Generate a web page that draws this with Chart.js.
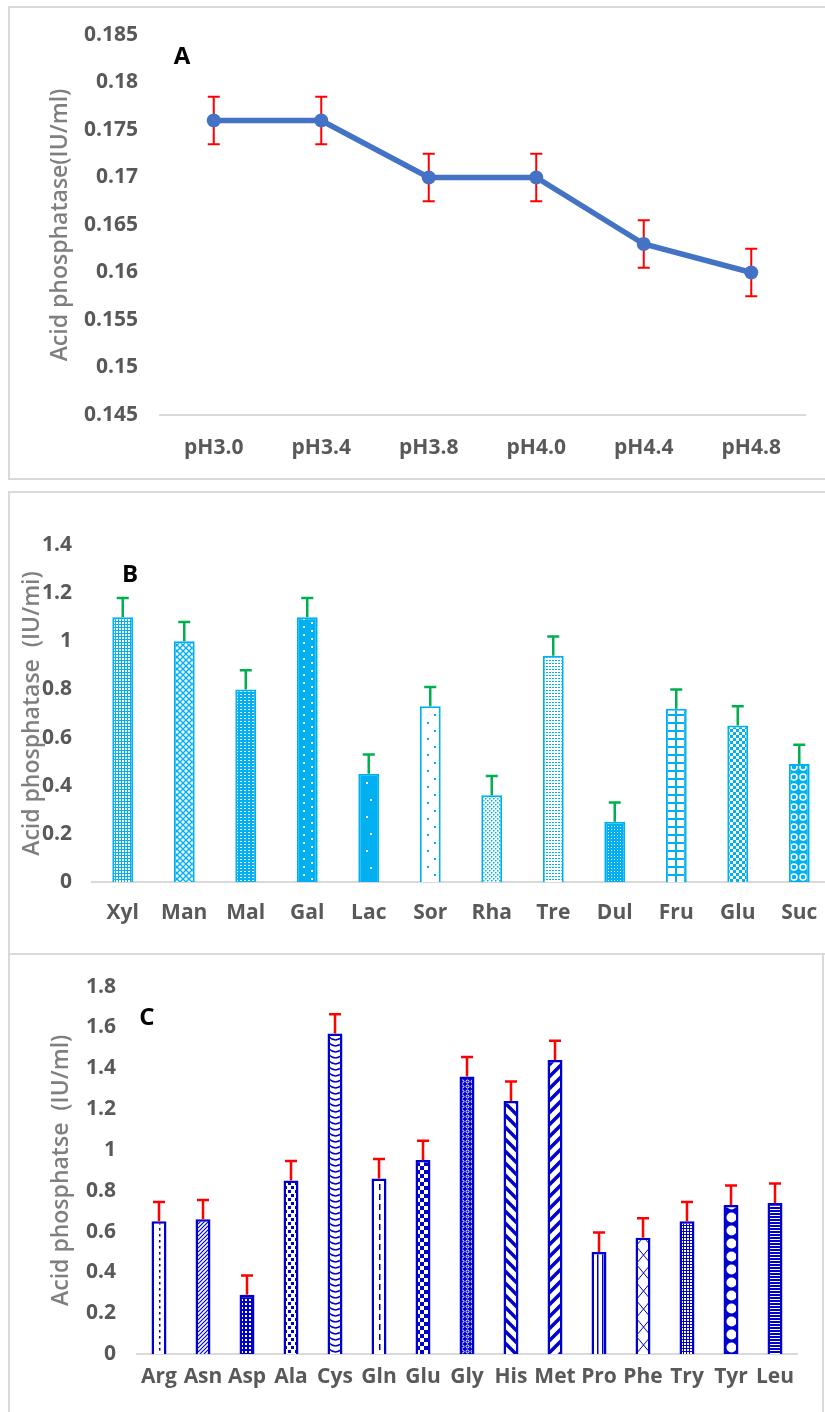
<!DOCTYPE html>
<html>
<head>
<meta charset="utf-8">
<script src="https://cdn.jsdelivr.net/npm/chart.js@4.4.0/dist/chart.umd.min.js"></script>
<style>
  body { margin: 0; background: #fff; width: 825px; height: 1412px; overflow: hidden; position: relative; }
  .panel { position: absolute; border: 2px solid #d9d9d9; box-sizing: border-box; }
  canvas { position: absolute; left: 0; }
</style>
</head>
<body>
<div class="panel" style="left:8px;top:6px;width:840px;height:474px"></div>
<div class="panel" style="left:8px;top:491px;width:840px;height:464px"></div>
<div class="panel" style="left:8px;top:953px;width:816px;height:470px"></div>
<canvas id="chartA" width="825" height="480" style="top:0"></canvas>
<canvas id="chartB" width="840" height="461" style="top:492px"></canvas>
<canvas id="chartC" width="825" height="459" style="top:953px"></canvas>
<script>
// A - pH
const phLabels = ['pH3.0', 'pH3.4', 'pH3.8', 'pH4.0', 'pH4.4', 'pH4.8'];
const phValues = [0.176, 0.176, 0.170, 0.170, 0.163, 0.160];
const phErrors = [0.0025, 0.0025, 0.0025, 0.0025, 0.0025, 0.0025];
const phTicks = [0.145, 0.15, 0.155, 0.16, 0.165, 0.17, 0.175, 0.18, 0.185];

// B - sugars
const sugarLabels = ['Xyl', 'Man', 'Mal', 'Gal', 'Lac', 'Sor', 'Rha', 'Tre', 'Dul', 'Fru', 'Glu', 'Suc'];
const sugarValues = [1.10, 1.00, 0.80, 1.10, 0.45, 0.73, 0.36, 0.94, 0.25, 0.72, 0.65, 0.49];
const sugarErrors = [0.08, 0.08, 0.08, 0.08, 0.08, 0.08, 0.08, 0.08, 0.08, 0.08, 0.08, 0.08];
const sugarTicks = [0, 0.2, 0.4, 0.6, 0.8, 1, 1.2, 1.4];

// C - amino acids
const aminoLabels = ['Arg', 'Asn', 'Asp', 'Ala', 'Cys', 'Gln', 'Glu', 'Gly', 'His', 'Met', 'Pro', 'Phe', 'Try', 'Tyr', 'Leu'];
const aminoValues = [0.65, 0.66, 0.29, 0.85, 1.57, 0.86, 0.95, 1.36, 1.24, 1.44, 0.50, 0.57, 0.65, 0.73, 0.74];
const aminoErrors = [0.095, 0.095, 0.095, 0.095, 0.095, 0.095, 0.095, 0.095, 0.095, 0.095, 0.095, 0.095, 0.095, 0.095, 0.095];
const aminoTicks = [0, 0.2, 0.4, 0.6, 0.8, 1, 1.2, 1.4, 1.6, 1.8];

const CY = '#00b0f0', BL = '#0000cc', W = '#ffffff';
const tickFont = { family: "'Open Sans', sans-serif", size: 21, weight: 'bold' };
const titleFont = { family: "'Open Sans', sans-serif", size: 23, weight: '600' };
const tickColor = '#595959', titleColor = '#7f7f7f';

// small repeating fills for the bars
function tile(w, h, bg, draw) {
  const c = document.createElement('canvas');
  c.width = w; c.height = h;
  const g = c.getContext('2d');
  g.fillStyle = bg; g.fillRect(0, 0, w, h);
  draw(g);
  return g.createPattern(c, 'repeat');
}
function lines(g, col, lw, segs) {
  g.strokeStyle = col; g.lineWidth = lw; g.beginPath();
  segs.forEach(s => { g.moveTo(s[0], s[1]); g.lineTo(s[2], s[3]); });
  g.stroke();
}

const sugarFills = [
  tile(3, 3, W, g => { g.fillStyle = CY; g.fillRect(0, 0, 3, 1); g.fillRect(0, 0, 1, 3); }),
  tile(6, 6, W, g => lines(g, CY, 1.4, [[0, 0, 6, 6], [6, 0, 0, 6]])),
  tile(4, 3, CY, g => { g.fillStyle = W; g.fillRect(1, 1, 2, 1); }),
  tile(21, 8, CY, g => { g.fillStyle = W; g.fillRect(6, 0, 2, 2); g.fillRect(14, 4, 2, 2); }),
  tile(21, 34, CY, g => { g.fillStyle = W; g.fillRect(8, 2, 2, 2); g.fillRect(12, 19, 2, 2); }),
  tile(21, 16, W, g => { g.fillStyle = CY; g.fillRect(7, 0, 2, 2); g.fillRect(14, 8, 2, 2); }),
  tile(4, 4, W, g => { g.fillStyle = CY; g.fillRect(0, 0, 1.5, 1.5); g.fillRect(2, 2, 1.5, 1.5); }),
  tile(3, 3, W, g => { g.fillStyle = CY; g.fillRect(0, 0, 2, 1); }),
  tile(3, 3, CY, g => { g.fillStyle = W; g.fillRect(1, 1, 1, 1); }),
  tile(9, 8, CY, g => { g.fillStyle = W; g.fillRect(2, 2, 7, 6); }),
  tile(6, 6, W, g => { g.fillStyle = CY; g.fillRect(0, 0, 3, 3); g.fillRect(3, 3, 3, 3); }),
  tile(9, 10, CY, g => { g.strokeStyle = W; g.lineWidth = 1.5; g.beginPath(); g.arc(5, 5, 3, 0, Math.PI * 2); g.stroke(); })
];

const aminoFills = [
  tile(15, 6, W, g => { g.fillStyle = BL; g.fillRect(7, 0, 1.5, 2.5); }),
  tile(4, 4, W, g => lines(g, BL, 1.2, [[0, 4, 4, 0], [-1, 1, 1, -1], [3, 5, 5, 3]])),
  tile(4, 4, BL, g => { g.fillStyle = W; g.fillRect(1, 1, 2, 2); }),
  tile(7, 8, W, g => { g.fillStyle = BL; g.fillRect(0, 0, 3, 3); g.fillRect(4, 4, 3, 3); }),
  tile(15, 6, W, g => { g.strokeStyle = BL; g.lineWidth = 1.5; g.beginPath(); g.moveTo(0, 0); g.quadraticCurveTo(7.5, 8, 15, 0); g.stroke(); }),
  tile(15, 10, W, g => { g.fillStyle = BL; g.fillRect(7, 0, 1.5, 6); }),
  tile(8, 8, W, g => { g.fillStyle = BL; g.fillRect(0, 0, 4, 4); g.fillRect(4, 4, 4, 4); }),
  tile(5, 5, BL, g => { g.strokeStyle = W; g.lineWidth = 1; g.beginPath(); g.arc(2.5, 2.5, 1.5, 0, Math.PI * 2); g.stroke(); }),
  tile(12, 12, W, g => lines(g, BL, 3.5, [[0, 0, 12, 12], [-6, 6, 6, 18], [6, -6, 18, 6]])),
  tile(12, 12, W, g => lines(g, BL, 3.5, [[0, 12, 12, 0], [-6, 6, 6, -6], [6, 18, 18, 6]])),
  tile(5, 1, W, g => { g.fillStyle = BL; g.fillRect(0, 0, 1.5, 1); }),
  tile(15, 18, W, g => lines(g, BL, 1, [[0, 0, 15, 18], [15, 0, 0, 18]])),
  tile(3, 3, W, g => { g.fillStyle = BL; g.fillRect(0, 0, 3, 1); g.fillRect(0, 0, 1, 3); }),
  tile(15, 13, BL, g => { g.fillStyle = W; g.beginPath(); g.arc(7.5, 6.5, 5, 0, Math.PI * 2); g.fill(); }),
  tile(1, 3, BL, g => { g.fillStyle = W; g.fillRect(0, 2, 1, 1); })
];

// line each fill up with the left edge of its bar
const alignPatterns = {
  id: 'alignPatterns',
  beforeDatasetsDraw(chart) {
    const meta = chart.getDatasetMeta(0);
    const bg = chart.data.datasets[0].backgroundColor;
    meta.data.forEach((el, i) => {
      const p = bg[i];
      if (p && p.setTransform) p.setTransform(new DOMMatrix([1, 0, 0, 1, Math.round(el.x - el.width / 2), Math.round(el.base)]));
    });
  }
};

function drawErrors(chart, opts) {
  const ctx = chart.ctx;
  const y = chart.scales.y;
  const vals = chart.data.datasets[0].data;
  ctx.save();
  ctx.strokeStyle = opts.color;
  ctx.lineWidth = opts.width;
  chart.getDatasetMeta(0).data.forEach((el, i) => {
    const top = y.getPixelForValue(vals[i] + opts.errors[i]);
    const bot = opts.both ? y.getPixelForValue(vals[i] - opts.errors[i]) : y.getPixelForValue(vals[i]);
    ctx.beginPath();
    ctx.moveTo(el.x, top); ctx.lineTo(el.x, bot);
    ctx.moveTo(el.x - opts.cap / 2, top); ctx.lineTo(el.x + opts.cap / 2, top);
    if (opts.both) { ctx.moveTo(el.x - opts.cap / 2, bot); ctx.lineTo(el.x + opts.cap / 2, bot); }
    ctx.stroke();
  });
  ctx.restore();
}
const errorBarsBehind = { id: 'errorBarsBehind', beforeDatasetsDraw(chart, args, opts) { drawErrors(chart, opts); } };
const errorBarsFront = { id: 'errorBarsFront', afterDatasetsDraw(chart, args, opts) { drawErrors(chart, opts); } };

const panelLetter = {
  id: 'panelLetter',
  afterDraw(chart, args, opts) {
    const ctx = chart.ctx;
    ctx.save();
    ctx.font = "bold 24px 'Open Sans', sans-serif";
    ctx.fillStyle = '#000';
    ctx.textAlign = 'center';
    ctx.textBaseline = 'middle';
    ctx.fillText(opts.text, opts.x, opts.y);
    ctx.restore();
  }
};

function axes(cfg) {
  return {
    x: {
      offset: true,
      grid: { display: false, drawTicks: false },
      border: { display: true, color: '#d9d9d9', width: 2 },
      ticks: { font: tickFont, color: tickColor, padding: cfg.xPad, maxRotation: 0, autoSkip: false },
      afterFit: s => { s.height = cfg.xHeight; }
    },
    y: {
      min: cfg.ticks[0],
      max: cfg.ticks[cfg.ticks.length - 1],
      grid: { display: false, drawTicks: false },
      border: { display: false },
      afterBuildTicks: s => { s.ticks = cfg.ticks.map(v => ({ value: v })); },
      ticks: { font: tickFont, color: tickColor, padding: cfg.yPad, callback: v => String(+v.toFixed(3)) },
      title: { display: true, text: cfg.title, font: titleFont, color: titleColor, padding: { top: cfg.titleTop, bottom: 0 } },
      afterFit: s => { s.width = cfg.yWidth; }
    }
  };
}

new Chart(document.getElementById('chartA'), {
  type: 'line',
  data: {
    labels: phLabels,
    datasets: [{
      data: phValues,
      borderColor: '#4472c4',
      backgroundColor: '#4472c4',
      borderWidth: 5.5,
      pointRadius: 7,
      pointBackgroundColor: '#4472c4',
      pointBorderWidth: 0,
      tension: 0
    }]
  },
  options: {
    responsive: false, animation: false, devicePixelRatio: 1,
    layout: { padding: { left: 0, right: 20, top: 35, bottom: 10 } },
    plugins: {
      legend: { display: false }, tooltip: { enabled: false },
      errorBarsBehind: { errors: phErrors, color: '#ff0000', width: 2, cap: 12, both: true },
      panelLetter: { text: 'A', x: 182, y: 57 }
    },
    scales: axes({ ticks: phTicks, title: 'Acid phosphatase(IU/ml)', xPad: 20, xHeight: 55, yPad: 22, yWidth: 160, titleTop: 47 })
  },
  plugins: [errorBarsBehind, panelLetter]
});

new Chart(document.getElementById('chartB'), {
  type: 'bar',
  data: {
    labels: sugarLabels,
    datasets: [{
      data: sugarValues,
      backgroundColor: sugarFills,
      borderColor: CY,
      borderWidth: 2,
      categoryPercentage: 1,
      barPercentage: 0.34
    }]
  },
  options: {
    responsive: false, animation: false, devicePixelRatio: 1,
    layout: { padding: { left: 0, right: 10, top: 53, bottom: 11 } },
    plugins: {
      legend: { display: false }, tooltip: { enabled: false },
      errorBarsFront: { errors: sugarErrors, color: '#00b050', width: 2.5, cap: 12, both: false },
      panelLetter: { text: 'B', x: 130, y: 83 }
    },
    scales: axes({ ticks: sugarTicks, title: 'Acid phosphatase  (IU/mi)', xPad: 18, xHeight: 60, yPad: 20, yWidth: 92, titleTop: 19 })
  },
  plugins: [alignPatterns, errorBarsFront, panelLetter]
});

new Chart(document.getElementById('chartC'), {
  type: 'bar',
  data: {
    labels: aminoLabels,
    datasets: [{
      data: aminoValues,
      backgroundColor: aminoFills,
      borderColor: BL,
      borderWidth: 2.5,
      categoryPercentage: 1,
      barPercentage: 0.34
    }]
  },
  options: {
    responsive: false, animation: false, devicePixelRatio: 1,
    layout: { padding: { left: 0, right: 28, top: 30, bottom: 8 } },
    plugins: {
      legend: { display: false }, tooltip: { enabled: false },
      errorBarsFront: { errors: aminoErrors, color: '#ff0000', width: 2.5, cap: 12, both: false },
      panelLetter: { text: 'C', x: 147, y: 65 }
    },
    scales: axes({ ticks: aminoTicks, title: 'Acid phosphatse  (IU/ml)', xPad: 10, xHeight: 50, yPad: 21, yWidth: 137, titleTop: 48 })
  },
  plugins: [alignPatterns, errorBarsFront, panelLetter]
});
</script>
</body>
</html>
